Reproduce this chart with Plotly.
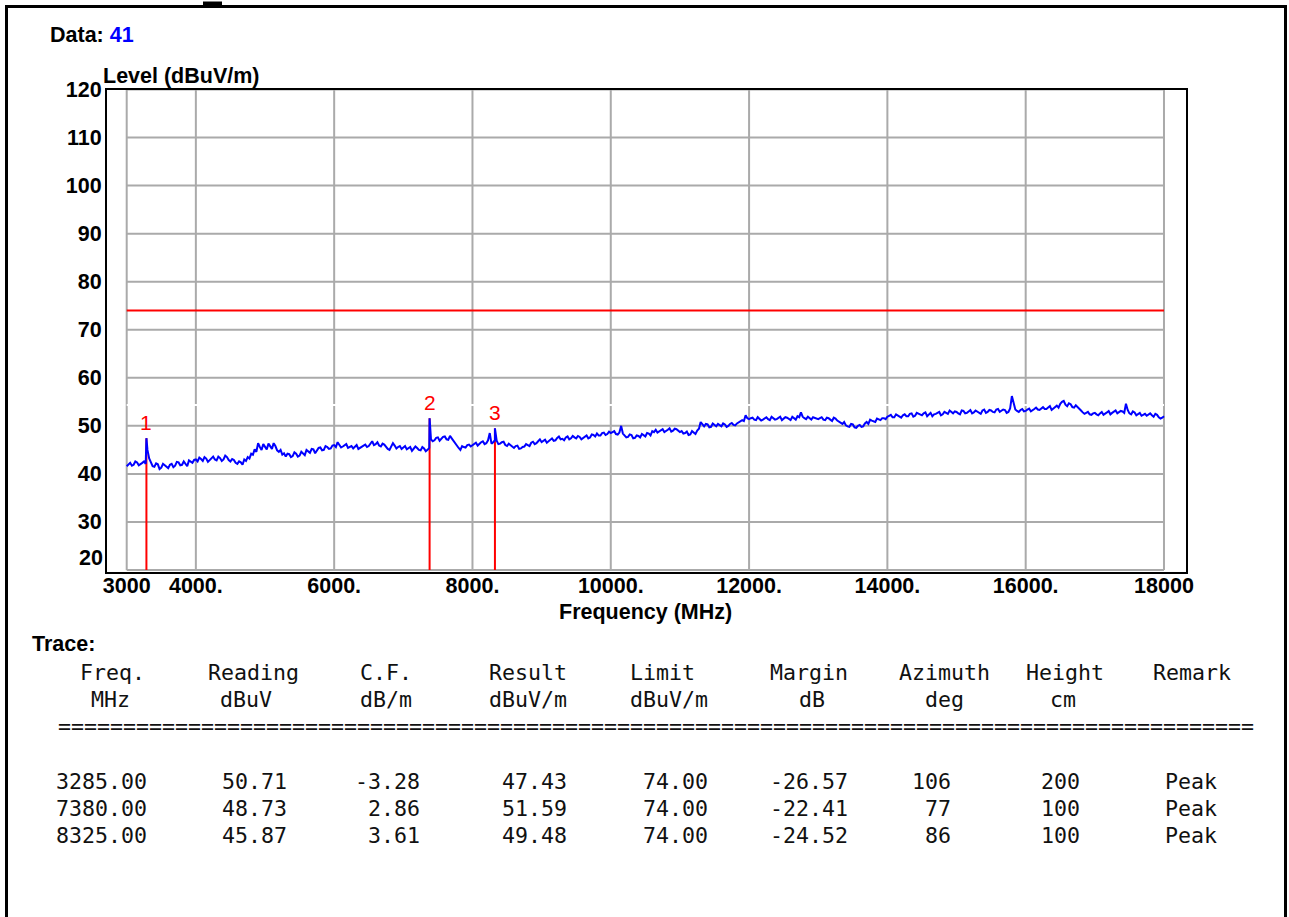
import numpy as np
import plotly.graph_objects as go

W, H = 1289, 917

# ---------------- data ----------------
DATA_NO = "41"
FREQ_START = 3000
FREQ_STEP = 50
# measured level (dBuV/m) at 3000, 3050, ... 18000 MHz
LEVEL = [
    41.6, 42.3, 41.9, 42.4, 42.0, 42.6, 45.0, 42.2, 41.5, 42.0, 41.3, 41.8, 41.2, 42.1, 41.7, 42.4, 41.9, 42.2, 42.8, 42.3,
    43.0, 43.4, 42.7, 43.2, 42.9, 43.6, 42.8, 43.3, 43.0, 43.5, 42.6, 42.9, 42.1, 42.4, 43.0, 43.5, 44.2, 45.1, 46.4, 45.0,
    45.6, 46.3, 45.2, 45.8, 44.6, 44.0, 43.6, 44.1, 43.7, 44.2, 43.8, 44.3, 45.0, 44.4, 45.1, 44.8, 45.5, 45.0, 45.6, 45.3,
    46.0, 46.6, 45.5, 45.9, 45.4, 45.8, 45.6, 45.2, 45.7, 46.1, 45.8, 46.8, 46.2, 45.9, 46.3, 45.6, 45.0, 46.4, 45.3, 45.8,
    45.5, 45.1, 45.6, 45.2, 45.4, 44.9, 45.3, 45.0, 47.2, 47.0, 47.6, 47.3, 47.8, 47.1, 47.4, 46.2, 45.4, 45.8, 45.5, 46.1,
    46.0, 46.5, 46.3, 46.8, 46.4, 48.5, 46.6, 46.9, 46.3, 46.7, 45.8, 46.0, 45.4, 45.9, 45.3, 45.7, 46.0, 46.5, 46.2, 46.8,
    46.6, 47.1, 46.8, 47.4, 47.0, 47.8, 47.3, 47.6, 47.2, 47.9, 47.4, 47.7, 47.5, 48.0, 47.6, 48.1, 48.4, 48.0, 48.6, 48.3,
    48.5, 48.9, 48.2, 50.0, 48.0, 47.7, 48.1, 47.5, 47.9, 48.3, 47.8, 48.4, 48.9, 49.2, 48.8, 49.3, 48.9, 49.5, 49.0, 49.3,
    48.7, 48.4, 48.8, 48.2, 48.6, 49.0, 50.8, 49.9, 50.3, 49.8, 50.2, 50.4, 49.9, 50.3, 50.0, 50.6, 50.1, 50.7, 51.2, 52.2,
    51.4, 51.7, 51.2, 51.5, 51.3, 51.8, 51.2, 51.6, 51.4, 51.9, 51.5, 51.7, 51.2, 51.6, 52.0, 52.8, 51.6, 51.9, 51.3, 51.7,
    51.4, 51.8, 51.2, 51.6, 51.0, 51.5, 50.9, 50.4, 50.1, 49.8, 50.3, 49.6, 50.2, 49.9, 50.8, 51.3, 51.0, 51.5, 51.2, 51.6,
    51.9, 52.3, 51.8, 52.1, 51.7, 52.4, 52.0, 52.6, 52.1, 52.5, 52.2, 52.8, 52.3, 52.0, 52.5, 52.9, 52.4, 52.7, 53.2, 52.6,
    52.9, 52.4, 53.1, 52.7, 53.3, 52.8, 53.0, 52.5, 53.4, 52.9, 53.2, 52.8, 53.5, 53.1, 53.3, 52.9, 56.2, 53.4, 52.9, 53.5,
    53.1, 53.6, 53.2, 53.8, 53.3, 53.9, 53.5, 54.1, 53.6, 54.2, 54.6, 55.2, 54.1, 54.5, 53.8, 54.0, 53.2, 52.5, 52.9, 52.3,
    52.7, 52.2, 52.9, 52.5, 53.1, 52.7, 53.2, 52.8, 53.0, 54.6, 52.6, 53.0, 52.2, 52.7, 52.3, 52.1, 52.6, 51.9, 52.3, 51.5,
    52.0,
]
# measured level (dBuV/m) at the in-between points 3025, 3075, ... 17975 MHz
LEVEL_MID = [
    42.0, 41.7, 42.6, 41.8, 42.3, 42.1, 43.2, 41.6, 42.2, 41.0, 42.1, 41.5, 41.9, 41.4, 42.5, 41.8, 42.6, 41.6, 42.5, 42.9,
    42.6, 43.1, 43.5, 42.5, 43.4, 43.0, 43.6, 42.7, 43.8, 42.9, 43.1, 42.3, 42.6, 41.9, 42.7, 43.2, 44.0, 44.6, 45.6, 46.2,
    45.1, 45.7, 46.4, 44.9, 45.0, 44.3, 44.2, 43.5, 44.5, 43.6, 44.6, 43.9, 44.7, 45.2, 44.3, 45.4, 44.9, 45.8, 45.2, 45.9,
    45.6, 46.1, 45.7, 46.2, 45.6, 45.3, 46.0, 45.5, 45.9, 45.6, 46.4, 46.0, 46.6, 45.7, 46.1, 45.2, 45.8, 45.9, 45.6, 45.2,
    45.8, 45.4, 44.8, 45.7, 45.0, 45.6, 44.7, 45.4, 46.8, 47.5, 46.9, 47.7, 47.2, 47.9, 46.9, 45.8, 45.0, 45.6, 46.0, 45.7,
    46.3, 45.9, 46.6, 46.2, 47.0, 46.3, 47.0, 46.2, 46.6, 46.0, 46.3, 45.5, 45.8, 45.2, 45.6, 46.2, 45.8, 46.7, 46.4, 47.2,
    46.9, 46.5, 47.2, 46.9, 47.5, 47.2, 47.0, 47.8, 47.4, 47.6, 47.9, 47.2, 47.9, 47.4, 48.2, 47.8, 48.0, 48.5, 48.1, 48.8,
    48.7, 48.3, 48.6, 48.4, 47.6, 48.2, 47.4, 48.0, 47.6, 48.1, 48.5, 48.0, 48.7, 48.6, 49.1, 48.7, 49.2, 48.8, 49.4, 48.9,
    48.9, 48.5, 48.1, 48.9, 48.3, 49.4, 50.2, 50.4, 49.7, 50.5, 49.9, 50.1, 50.5, 49.8, 50.4, 50.2, 50.5, 50.9, 51.0, 51.6,
    51.6, 51.3, 51.8, 51.1, 51.6, 51.4, 51.9, 51.3, 51.7, 51.2, 51.8, 51.4, 51.9, 51.3, 51.8, 51.9, 51.4, 51.6, 51.8, 51.5,
    51.6, 51.3, 51.7, 51.3, 51.7, 51.1, 50.6, 50.8, 49.9, 50.4, 49.7, 50.0, 49.8, 50.5, 50.4, 51.1, 50.8, 51.3, 51.6, 51.4,
    52.1, 51.8, 52.4, 51.9, 52.2, 52.0, 52.5, 51.9, 52.7, 52.3, 52.6, 52.0, 52.7, 52.4, 52.8, 52.2, 52.9, 52.5, 52.8, 53.0,
    52.6, 53.2, 52.6, 53.0, 52.6, 53.2, 52.8, 53.2, 52.7, 53.3, 52.9, 53.4, 52.9, 53.4, 52.7, 53.6, 54.5, 53.1, 53.3, 53.0,
    53.4, 53.0, 53.5, 53.4, 53.7, 53.5, 53.8, 53.3, 53.9, 53.8, 55.0, 54.4, 54.7, 53.9, 54.3, 53.6, 52.8, 52.7, 52.4, 52.6,
    52.4, 52.6, 52.3, 52.8, 52.4, 53.0, 52.6, 53.1, 52.7, 53.3, 52.4, 52.8, 52.5, 52.1, 52.5, 52.4, 52.2, 52.5, 51.8, 51.7,
]

LIMIT_LEVEL = 74.0

MARK_ID = ["1", "2", "3"]
MARK_FREQ = [3285.00, 7380.00, 8325.00]
MARK_READING = [50.71, 48.73, 45.87]
MARK_CF = [-3.28, 2.86, 3.61]
MARK_RESULT = [47.43, 51.59, 49.48]
MARK_LIMIT = [74.00, 74.00, 74.00]
MARK_MARGIN = [-26.57, -22.41, -24.52]
MARK_AZIMUTH = [106, 77, 86]
MARK_HEIGHT = [200, 100, 100]
MARK_REMARK = ["Peak", "Peak", "Peak"]

X_TICKS = [3000, 4000, 6000, 8000, 10000, 12000, 14000, 16000, 18000]
X_TICK_TEXT = ["3000", "4000.", "6000.", "8000.", "10000.", "12000.", "14000.", "16000.", "18000"]
Y_TICKS = [20, 30, 40, 50, 60, 70, 80, 90, 100, 110, 120]

HEAD_1 = ["Freq.", "Reading", "C.F.", "Result", "Limit", "Margin", "Azimuth", "Height", "Remark"]
HEAD_2 = ["MHz", "dBuV", "dB/m", "dBuV/m", "dBuV/m", "dB", "deg", "cm", ""]

# ---------------- layout helpers ----------------
def px(x):
    return x / W

def py(y):
    return 1 - y / H

X_LO, X_HI = 3000, 18000
Y_LO, Y_HI = 20, 120
X_RANGE = [2715, 18311]
Y_RANGE = [19.69, 120]

AX_FONT = "Liberation Sans, Arial, sans-serif"
MONO = "DejaVu Sans Mono, monospace"
TXT = 21.5
MONO_SIZE = 21.6

freqs = FREQ_START + FREQ_STEP * np.arange(len(LEVEL))
freqs_mid = FREQ_START + FREQ_STEP / 2 + FREQ_STEP * np.arange(len(LEVEL_MID))
all_f = np.concatenate([freqs, freqs_mid, MARK_FREQ])
all_l = np.concatenate([LEVEL, LEVEL_MID, MARK_RESULT])
order = np.argsort(all_f, kind="stable")
trace_f = all_f[order]
trace_l = all_l[order]

fig = go.Figure()

# marker lines
for f, r in zip(MARK_FREQ, MARK_RESULT):
    fig.add_trace(go.Scatter(x=[f, f], y=[Y_LO, r], mode="lines",
                             line=dict(color="#ff0000", width=2),
                             hoverinfo="skip", showlegend=False))
# limit line
fig.add_trace(go.Scatter(x=[X_LO, X_HI], y=[LIMIT_LEVEL, LIMIT_LEVEL], mode="lines",
                         line=dict(color="#ff0000", width=2),
                         hoverinfo="skip", showlegend=False))
# measured trace
fig.add_trace(go.Scatter(x=trace_f, y=trace_l, mode="lines",
                         line=dict(color="#0000ff", width=2),
                         showlegend=False))

shapes = []
GRID = "#aaaaaa"
for xv in X_TICKS:
    shapes.append(dict(type="line", xref="x", yref="y", x0=xv, x1=xv, y0=Y_LO, y1=Y_HI,
                       line=dict(color=GRID, width=2), layer="below"))
for yv in Y_TICKS:
    shapes.append(dict(type="line", xref="x", yref="y", x0=X_LO, x1=X_HI, y0=yv, y1=yv,
                       line=dict(color=GRID, width=2), layer="below"))
# faint white break across grid
shapes.append(dict(type="line", xref="x", yref="y", x0=X_LO, x1=X_HI, y0=54.34, y1=54.34,
                   line=dict(color="#ffffff", width=2), layer="below"))
# page frame
shapes.append(dict(type="rect", xref="paper", yref="paper", x0=px(6.5), x1=px(1285.5),
                   y0=-0.05, y1=py(6.5), line=dict(color="#000000", width=3)))
shapes.append(dict(type="rect", xref="paper", yref="paper", x0=px(203), x1=px(222),
                   y0=py(5), y1=py(1.5), line=dict(width=0), fillcolor="#000000"))

ann = []
ann.append(dict(xref="paper", yref="paper", x=px(48), y=py(35), xanchor="left", yanchor="middle",
                text="<b>Data: <span style='color:#0000ff'>" + DATA_NO + "</span></b>",
                showarrow=False, font=dict(family=AX_FONT, size=TXT, color="#000000")))
ann.append(dict(xref="paper", yref="paper", x=px(101), y=py(76), xanchor="left", yanchor="middle",
                text="<b>Level (dBuV/m)</b>", showarrow=False,
                font=dict(family=AX_FONT, size=TXT, color="#000000")))
ann.append(dict(xref="paper", yref="paper", x=px(645), y=py(612), xanchor="center", yanchor="middle",
                text="<b>Frequency (MHz)</b>", showarrow=False,
                font=dict(family=AX_FONT, size=TXT, color="#000000")))
# lowest y tick label lifted above the x labels
ann.append(dict(xref="paper", yref="paper", x=px(105), y=py(558), xanchor="right", yanchor="middle",
                text="<b>%d</b>" % Y_TICKS[0], showarrow=False,
                font=dict(family=AX_FONT, size=TXT, color="#000000")))
# marker numbers
for mid, f, r in zip(MARK_ID, MARK_FREQ, MARK_RESULT):
    ann.append(dict(xref="x", yref="y", x=f, y=r, xanchor="center", yanchor="middle", yshift=16,
                    text=mid, showarrow=False,
                    font=dict(family=AX_FONT, size=21, color="#ff0000")))

# table
ann.append(dict(xref="paper", yref="paper", x=px(30), y=py(644), xanchor="left", yanchor="middle",
                text="<b>Trace:</b>", showarrow=False,
                font=dict(family=AX_FONT, size=TXT, color="#000000")))
HEAD_CX = [112, 253, 386, 528, 662, 809, 944, 1065, 1192]
HEAD2_CX = [110, 246, 386, 528, 669, 812, 944, 1063, 1192]
for h, cx in zip(HEAD_1, HEAD_CX):
    ann.append(dict(xref="paper", yref="paper", x=px(cx), y=py(672), xanchor="center", yanchor="middle",
                    text=h, showarrow=False, font=dict(family=MONO, size=MONO_SIZE, color="#111111")))
for h, cx in zip(HEAD_2, HEAD2_CX):
    if h:
        ann.append(dict(xref="paper", yref="paper", x=px(cx), y=py(699), xanchor="center", yanchor="middle",
                        text=h, showarrow=False, font=dict(family=MONO, size=MONO_SIZE, color="#111111")))
ann.append(dict(xref="paper", yref="paper", x=px(56), y=py(726), xanchor="left", yanchor="middle",
                text="=" * 92, showarrow=False, font=dict(family=MONO, size=MONO_SIZE, color="#111111")))

COL_RIGHT = [149, 289, 422, 569, 710, 850, 953, 1082, 1219]
ROW_Y = [781, 808, 835]
for i in range(len(MARK_FREQ)):
    cells = ["%.2f" % MARK_FREQ[i], "%.2f" % MARK_READING[i], "%.2f" % MARK_CF[i],
             "%.2f" % MARK_RESULT[i], "%.2f" % MARK_LIMIT[i], "%.2f" % MARK_MARGIN[i],
             "%d" % MARK_AZIMUTH[i], "%d" % MARK_HEIGHT[i], MARK_REMARK[i]]
    for c, xr in zip(cells, COL_RIGHT):
        ann.append(dict(xref="paper", yref="paper", x=px(xr), y=py(ROW_Y[i]), xanchor="right",
                        yanchor="middle", text=c, showarrow=False,
                        font=dict(family=MONO, size=MONO_SIZE, color="#111111")))

fig.update_layout(
    width=W, height=H,
    margin=dict(l=0, r=0, t=0, b=0, autoexpand=False),
    paper_bgcolor="#ffffff", plot_bgcolor="#ffffff",
    showlegend=False,
    shapes=shapes,
    annotations=ann,
    xaxis=dict(domain=[px(107), px(1185.5)], range=X_RANGE, showgrid=False, zeroline=False,
               showline=True, mirror=True, linecolor="#000000", linewidth=2, ticks="",
               automargin=False, ticklabelstandoff=-6,
               tickmode="array", tickvals=X_TICKS, ticktext=["<b>%s</b>" % t for t in X_TICK_TEXT],
               tickfont=dict(family=AX_FONT, size=TXT, color="#000000"), fixedrange=True),
    yaxis=dict(domain=[py(571.5), py(89.5)], range=Y_RANGE, showgrid=False, zeroline=False,
               showline=True, mirror=True, linecolor="#000000", linewidth=2, ticks="",
               automargin=False, ticklabelstandoff=-1,
               tickmode="array", tickvals=Y_TICKS[1:], ticktext=["<b>%d</b>" % v for v in Y_TICKS[1:]],
               tickfont=dict(family=AX_FONT, size=TXT, color="#000000"), fixedrange=True),
)

fig.write_html(
    "out.html",
    config={"displayModeBar": False, "responsive": False},
    post_script="document.body.style.margin='0';document.body.style.overflow='hidden';"
                "document.documentElement.style.overflow='hidden';",
)
